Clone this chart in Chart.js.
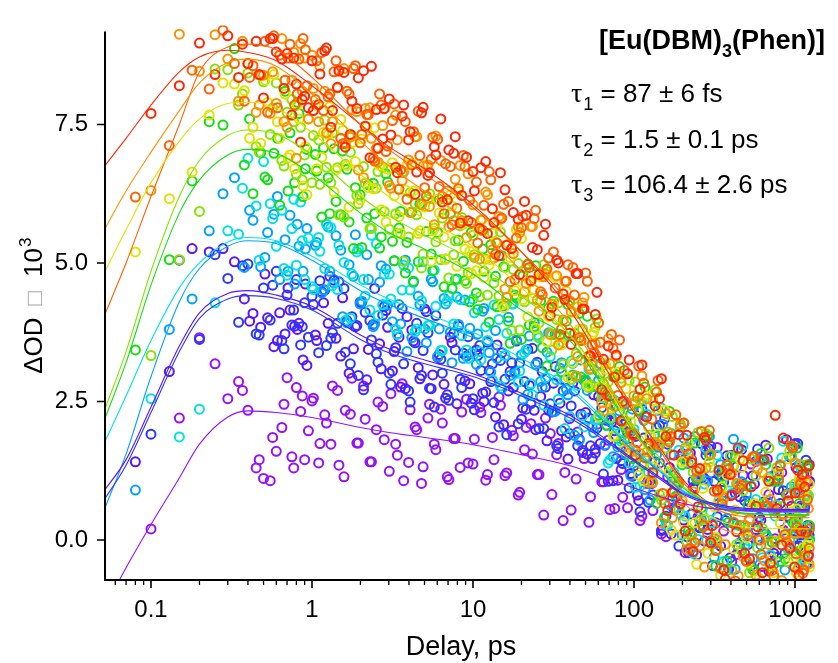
<!DOCTYPE html>
<html>
<head>
<meta charset="utf-8">
<script src="https://cdn.jsdelivr.net/npm/chart.js@4.4.1/dist/chart.umd.min.js"></script>
<style>
  html, body { margin: 0; padding: 0; background: #fff; }
  #wrap { width: 838px; height: 663px; position: relative; }
</style>
</head>
<body>
<div id="wrap"><canvas id="c" width="838" height="663"></canvas></div>
<script>
// Pump-probe delays (ps). Even traces: delaysA + delaysC, odd traces: delaysB + delaysD
const delaysA = [
  0.1, 0.15, 0.2, 0.25, 0.3, 0.35, 0.4, 0.45, 0.5, 0.55, 0.6, 0.65, 0.7, 0.75, 0.8, 0.85, 0.9, 0.95,
  1.0, 1.1, 1.2, 1.31, 1.44, 1.58, 1.73, 1.9, 2.09, 2.29, 2.51, 2.75, 3.02, 3.31, 3.63, 3.98, 4.37, 4.79, 5.25, 5.75, 6.31, 6.92, 7.59, 8.32, 9.12,
  10.0, 11.0, 12.0, 13.2, 14.5, 15.8, 17.4, 19.1, 20.9, 22.9, 25.1, 27.5, 30.2, 33.1, 36.3, 39.8, 43.7, 47.9, 52.5, 57.5, 63.1, 69.2, 75.9, 83.2, 91.2,
  100, 109, 120, 131, 144, 158, 173, 190, 208, 228, 250, 274, 300, 329, 361, 396, 434, 476, 522, 572, 627, 688, 754, 827, 907, 994, 1040, 1090, 1150, 1210
];
const delaysB = [
  0.08, 0.13, 0.18, 0.23, 0.28, 0.33, 0.38, 0.43, 0.48, 0.53, 0.58, 0.63, 0.68, 0.73, 0.78, 0.83, 0.88, 0.93,
  1.05, 1.15, 1.26, 1.37, 1.51, 1.65, 1.81, 1.99, 2.19, 2.4, 2.63, 2.88, 3.16, 3.47, 3.8, 4.17, 4.57, 5.01, 5.5, 6.03, 6.61, 7.24, 7.94, 8.71, 9.55,
  10.5, 11.5, 12.6, 13.8, 15.1, 16.6, 18.2, 20.0, 21.9, 24.0, 26.3, 28.8, 31.6, 34.7, 38.0, 41.7, 45.7, 50.1, 55.0, 60.3, 66.1, 72.4, 79.4, 87.1, 95.5,
  105, 115, 126, 138, 151, 166, 182, 199, 218, 239, 262, 287, 315, 345, 378, 415, 455, 499, 547, 600, 658, 721, 790, 866, 950, 1015, 1065, 1120, 1180, 1230
];
const delaysC = [
  0.37, 0.47, 0.57, 0.67, 0.77, 0.87,
  1.02, 1.12, 1.23, 1.34, 1.47, 1.61, 1.77, 1.94, 2.14, 2.34, 2.57, 2.81, 3.09, 3.39, 3.71, 4.07, 4.47, 4.9, 5.37, 5.88, 6.45, 7.08, 7.76, 8.51, 9.33,
  10.2, 11.2, 12.3, 13.5, 14.8, 16.2, 17.8, 19.5, 21.4, 23.4, 25.7, 28.2, 30.9, 33.9, 37.2, 40.7, 44.7, 49.0, 53.7, 58.9, 64.6, 70.8, 77.6, 85.1, 93.3,
  102, 112, 123, 135, 148, 162, 177, 194, 213, 233, 256, 280, 307, 337, 369, 405, 444, 487, 534, 586, 642, 704, 772, 846, 928, 1005, 1060, 1110, 1170, 1220
];
const delaysD = [
  0.41, 0.51, 0.61, 0.71, 0.81, 0.91,
  1.07, 1.18, 1.29, 1.41, 1.55, 1.7, 1.86, 2.04, 2.24, 2.45, 2.69, 2.95, 3.24, 3.55, 3.89, 4.27, 4.68, 5.13, 5.62, 6.17, 6.76, 7.41, 8.13, 8.91, 9.77,
  10.7, 11.7, 12.9, 14.1, 15.5, 17.0, 18.6, 20.4, 22.4, 24.5, 26.9, 29.5, 32.4, 35.5, 38.9, 42.7, 46.8, 51.3, 56.2, 61.7, 67.6, 74.1, 81.3, 89.1, 97.7,
  107, 117, 129, 141, 155, 170, 186, 204, 224, 245, 268, 294, 322, 353, 387, 425, 466, 511, 560, 614, 673, 738, 809, 887, 972, 1030, 1080, 1135, 1195, 1225
];

const traceNames = ['trace 1', 'trace 2', 'trace 3', 'trace 4', 'trace 5', 'trace 6',
                    'trace 7', 'trace 8', 'trace 9', 'trace 10', 'trace 11'];
const traceColors = ['#9610ff', '#5a14ff', '#2c36ff', '#00a2ff', '#00e2e2', '#12de12',
                     '#86e400', '#e2e200', '#ff9000', '#ff6000', '#ff2600'];

// ΔOD × 10^3 per trace, first scan (delaysA / delaysB)
const od1 = [
  0.20, 2.20, 3.65, 3.18, 2.55, 2.86, 2.34, 1.30, 1.11, 1.07, 1.60, 2.03, 2.93, 1.50, 2.75, 2.32, 1.45, 1.97,
  2.51, 1.39, 2.26, 1.73, 2.70, 1.14, 2.27, 1.75, 2.78, 1.41, 1.99, 2.41, 1.24, 1.73, 2.82, 1.40, 2.04, 1.02, 2.20, 1.73, 2.36, 1.14, 1.83, 1.31, 2.54,
  1.37, 2.40, 1.08, 1.85, 2.58, 1.16, 1.98, 0.81, 1.63, 2.10, 1.18, 0.45, 1.92, 1.54, 0.35, 2.19, 1.10, 1.62, 0.32, 1.64, 1.05, 1.80, 0.57, 1.27, 0.58,
  1.34, 0.35, 1.02, 0.53, 1.39, 0.06, 0.73, 1.05, -0.23, 1.45, 0.42, 1.10, -0.02, 1.67, 0.16, 0.80, -0.26, 1.17, 0.37, 1.42, -0.48, 0.82, 0.02, 1.22, 0.27, 1.72, -0.13, 0.62, 0.17, 1.07
];
const od2 = [
  1.41, 3.04, 5.26, 5.20, 5.26, 5.02, 4.35, 4.09, 3.84, 4.01, 3.49, 4.10, 3.72, 4.15, 3.86, 3.91, 3.25, 3.15,
  3.70, 4.48, 3.91, 4.69, 3.32, 3.96, 3.45, 4.29, 2.89, 3.89, 3.54, 4.14, 3.05, 3.66, 2.73, 3.79, 3.11, 4.17, 2.73, 3.30, 2.81, 3.66, 2.46, 3.37, 2.82,
  3.43, 2.65, 3.06, 2.22, 3.38, 2.69, 3.04, 2.18, 3.44, 2.34, 2.59, 1.79, 2.83, 2.47, 1.86, 2.84, 1.82, 2.30, 1.47, 2.59, 1.71, 2.12, 1.08, 2.09, 1.20,
  0.81, 1.84, 1.07, 2.03, 0.19, 1.31, 0.54, 1.56, -0.23, 0.93, 1.74, 0.19, 1.06, -0.11, 1.52, 0.30, 0.78, -0.38, 1.16, 0.41, 1.71, -0.04, 0.91, -0.24, 0.61, 1.31, 0.11, 0.86, -0.44, 1.06
];
const od3 = [
  1.91, 5.05, 3.62, 5.15, 4.72, 3.93, 4.98, 3.72, 4.55, 3.97, 4.85, 3.60, 4.42, 3.88, 4.70, 3.52, 4.28, 3.66,
  4.40, 3.38, 4.51, 3.64, 3.91, 4.54, 3.18, 3.87, 2.71, 3.96, 3.36, 4.06, 3.01, 3.47, 4.18, 2.69, 3.56, 2.97, 3.74, 2.40, 3.26, 2.62, 3.73, 2.90, 3.32,
  2.55, 3.51, 2.67, 3.18, 2.04, 2.90, 3.20, 2.10, 2.86, 2.46, 3.21, 2.01, 2.46, 1.70, 2.69, 1.92, 2.95, 1.58, 2.20, 1.57, 2.39, 1.06, 1.97, 1.43, 1.94,
  1.92, 0.51, 1.48, 0.81, 2.07, 0.43, 1.06, -0.11, 1.46, 0.47, 1.07, -0.02, 1.69, 0.42, 1.05, -0.32, 1.32, 0.06, 0.69, 0.19, 1.44, -0.56, 1.09, 0.44, 0.84, -0.11, 1.74, 0.09, 0.59, -0.26
];
const od4 = [
  0.90, 3.80, 4.35, 5.58, 6.25, 6.54, 4.92, 5.77, 4.93, 5.55, 5.88, 4.70, 5.42, 5.86, 4.62, 5.30, 4.85, 5.62,
  5.32, 4.46, 5.65, 4.64, 5.23, 3.92, 4.76, 4.26, 5.15, 3.85, 4.65, 4.89, 3.94, 4.25, 5.05, 3.65, 4.40, 3.81, 4.71, 3.31, 4.36, 3.75, 4.39, 3.28, 3.82,
  3.17, 4.13, 3.38, 3.78, 2.73, 4.02, 3.01, 3.34, 2.63, 3.92, 2.86, 3.39, 2.32, 3.10, 2.72, 3.19, 1.80, 2.85, 2.04, 2.88, 1.72, 2.20, 1.68, 2.50, 1.16,
  1.25, 2.16, 0.72, 1.54, 2.09, 0.64, 1.14, 0.09, 1.38, 1.87, 0.37, 1.07, -0.31, 1.36, 0.39, 1.82, -0.05, 0.83, -0.34, 1.46, 0.11, 0.56, 1.16, -0.54, 0.96, 0.26, 1.36, -0.19, 0.71, 0.01
];
const od5 = [
  2.55, 1.86, 2.36, 4.28, 5.58, 5.52, 6.89, 6.03, 6.83, 6.07, 5.30, 5.95, 4.78, 5.62, 4.96, 6.10, 4.70, 5.45,
  4.57, 5.46, 4.90, 5.64, 4.52, 5.01, 4.00, 5.20, 4.70, 4.15, 5.35, 4.25, 4.80, 3.81, 4.51, 4.91, 3.76, 4.32, 3.87, 4.87, 3.42, 4.31, 3.90, 4.34, 3.43,
  4.35, 3.40, 3.85, 2.89, 3.98, 3.33, 4.26, 2.85, 3.38, 2.82, 3.70, 2.43, 3.31, 2.89, 3.56, 2.23, 2.94, 2.24, 3.08, 2.17, 2.66, 1.39, 2.52, 1.78, 2.04,
  2.00, 0.97, 2.27, 1.18, 1.78, 0.27, 1.12, 1.62, 0.43, 1.81, 0.01, 1.01, 0.51, 1.53, -0.39, 1.04, 0.27, 1.70, -0.02, 0.73, -0.32, 1.13, 0.43, 1.48, -0.17, 0.93, 0.18, 1.28, -0.42, 0.78
];
const od6 = [
  3.43, 5.06, 6.48, 7.55, 7.49, 8.87, 6.77, 6.25, 6.99, 6.50, 6.98, 6.04, 8.10, 7.35, 6.45, 7.70, 6.20, 7.05,
  6.96, 5.83, 6.54, 7.06, 5.87, 6.69, 5.26, 6.23, 5.81, 6.44, 5.27, 6.61, 5.39, 5.63, 4.82, 5.92, 5.02, 6.02, 5.16, 5.55, 4.57, 5.89, 4.71, 5.03, 4.30,
  4.46, 5.25, 3.93, 4.76, 5.13, 3.95, 4.42, 3.62, 4.98, 3.85, 4.32, 3.14, 4.31, 3.68, 3.95, 2.98, 4.09, 2.89, 3.22, 2.25, 3.17, 2.45, 2.98, 1.80, 2.27,
  2.58, 1.36, 1.89, 0.66, 1.91, 2.32, 0.79, 1.36, 0.17, 1.75, 0.58, 1.88, 0.03, 0.95, -0.38, 1.34, 0.26, 0.98, -0.54, 0.61, 1.36, -0.04, 1.06, -0.34, 1.51, 0.11, 0.66, -0.19, 1.31, 0.26
];
const od7 = [
  3.33, 5.06, 5.93, 8.50, 8.49, 7.85, 8.43, 7.10, 8.27, 7.32, 8.25, 6.85, 7.72, 7.95, 6.60, 7.45, 6.95, 7.60,
  6.45, 7.22, 7.58, 6.45, 6.72, 5.83, 7.00, 6.22, 6.74, 5.62, 6.35, 6.73, 5.61, 5.89, 6.63, 5.47, 6.07, 4.91, 6.15, 5.63, 5.06, 6.13, 5.15, 5.67, 4.63,
  5.50, 4.39, 5.07, 5.54, 4.41, 4.92, 3.78, 4.99, 4.30, 4.66, 3.67, 4.97, 3.73, 3.98, 3.17, 4.30, 3.36, 3.81, 2.75, 3.84, 2.57, 2.85, 1.86, 2.92, 2.03,
  1.60, 2.53, 1.59, 2.51, 0.82, 1.66, 2.23, 0.55, 1.42, -0.03, 1.94, 0.37, 1.31, -0.18, 0.79, 1.51, -0.08, 0.89, -0.59, 1.16, 0.21, 1.66, -0.04, 0.61, -0.39, 1.01, 0.36, 1.36, -0.19, 0.81
];
const od8 = [
  5.20, 6.16, 6.64, 7.67, 8.25, 8.23, 8.11, 7.45, 7.16, 7.90, 8.40, 7.25, 8.05, 6.95, 6.70, 7.60, 6.39, 6.23,
  7.85, 6.91, 7.32, 6.28, 7.59, 6.76, 7.18, 6.14, 7.46, 6.34, 6.76, 5.74, 6.81, 5.84, 6.32, 6.80, 5.53, 6.01, 5.03, 6.15, 5.47, 6.23, 4.94, 5.70, 5.21,
  4.86, 5.79, 4.96, 5.38, 4.24, 5.35, 4.50, 5.44, 4.03, 4.52, 4.75, 3.58, 4.25, 3.57, 4.49, 3.20, 3.80, 3.23, 3.70, 2.22, 3.18, 2.38, 3.03, 1.63, 2.13,
  2.37, 1.07, 1.87, 2.36, 0.84, 1.23, 0.09, 1.41, 1.75, 0.31, 1.28, -0.24, 0.60, -0.64, 1.17, -0.16, 1.46, 0.04, 0.61, -0.69, 0.86, -0.34, 1.21, 0.06, 0.51, -0.59, 1.11, -0.14, 0.76, -0.49
];
const od9 = [
  6.31, 9.13, 8.46, 9.12, 8.68, 7.92, 8.60, 7.72, 8.39, 7.70, 7.88, 9.05, 7.45, 8.30, 6.89, 8.96, 8.70, 7.60,
  8.75, 7.55, 8.10, 7.15, 8.16, 8.51, 7.27, 7.73, 6.54, 7.80, 7.07, 7.48, 6.40, 7.67, 6.49, 6.86, 7.28, 6.05, 6.77, 5.69, 6.85, 6.30, 5.76, 6.76, 5.46,
  6.05, 5.07, 6.28, 5.24, 5.84, 4.53, 5.27, 5.65, 4.48, 5.66, 4.33, 4.75, 3.71, 4.77, 3.97, 4.32, 2.96, 4.28, 3.14, 3.54, 2.48, 3.63, 2.41, 2.84, 1.77,
  2.60, 1.56, 2.55, 1.04, 1.71, 2.28, 0.40, 1.02, 1.66, 0.09, 1.14, -0.49, 1.55, 0.00, 0.75, -0.79, 1.02, -0.30, 0.37, -0.63, 1.22, -0.08, 0.52, -0.73, 0.82, 0.12, -0.53, 1.07, -0.28, 0.57
];
const od10 = [
  6.19, 7.12, 8.48, 8.14, 9.20, 8.60, 7.92, 8.56, 8.39, 7.72, 9.10, 8.75, 8.30, 8.95, 7.85, 8.68, 9.05, 8.20,
  7.95, 8.80, 8.00, 8.45, 7.25, 8.10, 8.51, 7.17, 7.68, 6.89, 8.05, 7.01, 7.57, 6.33, 7.55, 6.77, 7.74, 6.36, 6.87, 7.23, 5.89, 6.74, 5.99, 6.94, 6.13,
  6.46, 5.59, 6.65, 5.16, 5.81, 6.11, 4.70, 5.64, 4.97, 5.80, 4.48, 4.89, 5.20, 3.71, 4.67, 4.92, 3.65, 4.82, 3.52, 3.92, 2.67, 3.71, 2.61, 3.06, 1.95,
  1.76, 2.83, 1.70, 2.67, 0.84, 1.77, 2.26, 0.71, 1.55, -0.05, 1.96, 0.11, 0.88, -0.51, 1.35, 0.32, 0.94, -0.38, 1.50, 0.00, 0.60, -0.55, 1.10, 0.10, 1.70, -0.25, 0.85, -0.60, 1.20, 0.20
];
const od11 = [
  7.70, 8.20, 8.97, 8.40, 9.10, 8.35, 8.60, 9.00, 7.98, 9.05, 8.81, 8.68, 8.78, 7.67, 8.23, 7.18, 8.01, 7.80,
  8.65, 7.86, 8.83, 7.45, 8.17, 8.44, 7.32, 7.79, 8.47, 6.90, 7.77, 7.24, 7.96, 6.73, 7.65, 7.22, 6.24, 7.71, 6.58, 7.10, 7.60, 6.14, 6.98, 5.72, 6.91,
  6.65, 5.62, 6.83, 5.98, 5.13, 6.32, 5.26, 5.79, 6.11, 4.68, 5.24, 5.50, 4.05, 5.05, 4.44, 3.73, 4.81, 4.17, 3.32, 4.07, 2.71, 3.50, 2.94, 2.15, 3.00,
  1.90, 2.72, 2.22, 1.22, 2.55, 1.87, 0.86, 1.90, 0.16, 1.40, 0.60, 1.85, -0.05, 0.90, -0.54, 1.18, 0.15, 1.43, -0.34, 0.61, -0.59, 1.06, 2.25, -0.09, 0.71, -0.49, 1.26, 0.16, 0.96, -0.29
];

// ΔOD × 10^3 per trace, second scan (delaysC / delaysD)
const od1b = [
  2.70, 1.45, 1.85, 2.45, 1.30, 2.60,
  2.56, 1.74, 2.11, 2.78, 1.35, 2.34, 2.92, 1.75, 2.18, 1.41, 2.49, 1.81, 2.64, 1.53, 1.07, 2.35, 1.99, 1.32, 2.45, 1.63, 2.11, 1.09, 1.83, 2.31, 1.39,
  1.82, 2.30, 1.18, 1.45, 2.43, 1.21, 1.88, 0.86, 2.03, 1.55, 1.18, 2.20, 0.82, 1.74, 1.22, 0.54, 1.95, 1.47, 0.78, 2.09, 1.05, 0.55, 1.47, 0.77, 1.68,
  1.62, 0.43, 1.08, 1.72, 0.11, 1.14, 0.56, 1.51, -0.18, 0.95, 0.24, 1.62, -0.02, 0.66, 1.16, -0.39, 0.97, 0.26, 1.37, 0.01, 0.69, -0.29, 1.24, 0.18, 1.50, 0.39, 0.99, -0.20, 0.78, 0.09
];
const od2b = [
  3.95, 4.80, 3.60, 4.55, 3.80, 4.62,
  3.60, 4.28, 4.76, 3.64, 4.37, 3.01, 3.85, 4.29, 3.44, 4.54, 3.09, 3.84, 3.40, 2.76, 4.03, 3.59, 2.91, 4.12, 2.98, 3.35, 2.56, 3.56, 3.86, 2.87, 2.47,
  3.33, 2.50, 2.86, 3.52, 2.08, 3.04, 3.59, 2.38, 2.79, 1.99, 3.04, 2.34, 3.13, 1.97, 1.46, 2.69, 2.27, 1.55, 2.62, 1.74, 2.16, 1.07, 1.73, 2.14, 1.15,
  0.71, 2.24, 1.02, 1.68, 2.19, 0.11, 1.09, 0.36, 1.57, -0.27, 1.14, 1.64, 0.31, 1.24, -0.53, 0.85, 1.63, -0.08, 1.01, 0.36, 1.46, -0.24, 0.66, 1.81, 0.01, 0.91, -0.44, 1.21, 0.26, 1.36
];
const od3b = [
  4.95, 3.70, 4.60, 3.45, 4.15, 3.85,
  4.25, 4.68, 3.51, 3.74, 4.66, 3.39, 4.03, 2.97, 4.11, 3.61, 3.21, 4.21, 2.81, 3.72, 3.18, 2.49, 3.91, 3.42, 2.74, 4.05, 3.01, 2.52, 3.43, 2.75, 3.67,
  2.35, 3.06, 3.57, 2.48, 3.24, 1.90, 2.75, 3.20, 2.36, 3.46, 2.01, 2.76, 2.31, 1.65, 2.89, 2.42, 1.70, 2.88, 1.70, 2.02, 1.19, 2.16, 2.42, 1.38, 0.94,
  1.87, 2.36, 0.68, 1.41, 0.17, 1.73, 0.86, 2.04, 0.06, 1.07, 0.22, 1.53, -0.46, 1.17, 0.35, 1.53, -0.13, 0.71, -0.46, 1.64, 0.14, 1.14, -0.31, 0.89, 0.39, 1.74, -0.11, 0.59, 1.44, 0.09
];
const od4b = [
  5.95, 5.10, 6.20, 4.85, 5.70, 5.25,
  5.37, 4.51, 4.85, 5.49, 4.03, 4.97, 5.51, 4.31, 4.70, 3.90, 4.95, 4.24, 5.04, 3.90, 3.40, 4.65, 4.25, 3.56, 4.66, 3.81, 4.26, 3.20, 3.89, 4.33, 3.37,
  3.72, 4.18, 3.03, 3.28, 4.23, 2.97, 3.61, 2.54, 3.68, 3.17, 2.76, 3.74, 2.32, 3.20, 2.62, 1.89, 3.25, 2.70, 1.94, 3.18, 2.07, 1.50, 2.33, 1.55, 2.36,
  2.35, 0.91, 1.62, 2.34, 0.39, 1.54, 0.79, 1.84, -0.17, 1.12, 0.27, 1.87, -0.06, 0.71, 1.29, -0.53, 1.05, 0.23, 1.51, -0.09, 0.71, -0.44, 1.36, 0.11, 1.66, 0.36, 1.06, -0.34, 0.81, 0.01
];
const od5b = [
  6.35, 5.05, 5.80, 4.90, 6.15, 5.40,
  4.52, 5.21, 5.70, 4.59, 5.32, 3.96, 4.80, 5.25, 4.40, 5.50, 4.05, 4.80, 4.35, 3.71, 4.96, 4.51, 3.81, 5.02, 3.87, 4.22, 3.42, 4.41, 4.70, 3.69, 3.28,
  4.10, 3.25, 3.60, 4.24, 2.78, 3.73, 4.26, 3.05, 3.43, 2.62, 3.65, 2.93, 3.71, 2.54, 2.01, 3.23, 2.79, 2.04, 3.08, 2.17, 2.56, 1.44, 2.07, 2.43, 1.39,
  0.95, 2.47, 1.22, 1.88, 2.38, 0.27, 1.22, 0.47, 1.63, -0.24, 1.16, 1.66, 0.31, 1.23, -0.54, 0.84, 1.62, -0.10, 0.98, 0.33, 1.43, -0.27, 0.63, 1.78, -0.02, 0.88, -0.47, 1.18, 0.23, 1.33
];
const od6b = [
  7.60, 6.55, 7.25, 6.30, 7.90, 6.70,
  6.66, 7.08, 5.89, 6.11, 7.02, 5.74, 6.36, 5.28, 6.41, 5.89, 5.47, 6.46, 5.04, 5.93, 5.37, 4.67, 6.07, 5.57, 4.86, 6.15, 5.07, 4.54, 5.41, 4.68, 5.55,
  4.16, 4.85, 5.33, 4.21, 4.93, 3.55, 4.37, 4.77, 3.88, 4.95, 3.47, 4.19, 3.71, 3.03, 4.25, 3.73, 2.94, 4.04, 2.77, 3.00, 2.07, 2.95, 3.13, 2.00, 1.47,
  2.33, 2.76, 1.04, 1.71, 0.41, 1.92, 0.99, 2.11, 0.12, 1.10, 0.23, 1.53, -0.47, 1.15, 0.32, 1.49, -0.19, 0.63, -0.54, 1.56, 0.06, 1.06, -0.39, 0.81, 0.31, 1.66, -0.19, 0.51, 1.36, 0.01
];
const od7b = [
  8.05, 7.00, 7.80, 6.75, 7.55, 6.50,
  7.30, 6.42, 6.73, 7.35, 5.87, 6.78, 7.30, 6.07, 6.44, 5.62, 6.65, 5.93, 6.71, 5.54, 5.03, 6.27, 5.87, 5.16, 6.25, 5.38, 5.81, 4.73, 5.40, 5.82, 4.83,
  5.15, 5.59, 4.42, 4.64, 5.56, 4.27, 4.88, 3.79, 4.90, 4.36, 3.92, 4.87, 3.43, 4.28, 3.67, 2.90, 4.21, 3.61, 2.80, 3.99, 2.82, 2.20, 2.96, 2.12, 2.88,
  2.85, 1.38, 2.04, 2.71, 0.72, 1.81, 1.03, 2.05, -0.03, 1.22, 0.34, 1.92, -0.04, 0.72, 1.29, -0.54, 1.02, 0.19, 1.46, -0.14, 0.66, -0.49, 1.31, 0.06, 1.61, 0.31, 1.01, -0.39, 0.76, -0.04
];
const od8b = [
  7.25, 8.30, 7.55, 6.90, 7.85, 7.10,
  6.70, 7.36, 7.82, 6.68, 7.39, 6.01, 6.83, 7.24, 6.36, 7.44, 5.96, 6.69, 6.21, 5.54, 6.77, 6.30, 5.58, 6.76, 5.58, 5.90, 5.07, 6.03, 6.29, 5.25, 4.81,
  5.61, 4.74, 5.06, 5.68, 4.19, 5.10, 5.60, 4.34, 4.68, 3.82, 4.80, 4.03, 4.75, 3.52, 2.94, 4.10, 3.60, 2.78, 3.75, 2.77, 3.08, 1.88, 2.43, 2.73, 1.63,
  1.17, 2.62, 1.32, 1.91, 2.34, 0.18, 1.09, 0.31, 1.45, -0.44, 0.93, 1.41, 0.05, 0.96, -0.83, 0.54, 1.31, -0.41, 0.66, 0.01, 1.11, -0.59, 0.31, 1.46, -0.34, 0.56, -0.79, 0.86, -0.09, 1.01
];
const od9b = [
  9.00, 7.85, 8.45, 7.55, 8.80, 8.10,
  8.15, 8.55, 7.35, 7.55, 8.46, 7.16, 7.77, 6.68, 7.79, 7.25, 6.82, 7.78, 6.35, 7.22, 6.64, 5.91, 7.28, 6.75, 6.02, 7.29, 6.20, 5.65, 6.51, 5.76, 6.61,
  5.10, 5.77, 6.23, 5.09, 5.79, 4.38, 5.17, 5.55, 4.63, 5.66, 4.13, 4.80, 4.26, 3.52, 4.67, 4.12, 3.31, 4.38, 3.09, 3.29, 2.33, 3.18, 3.31, 2.14, 1.57,
  2.50, 2.96, 1.04, 1.76, 0.31, 1.95, 0.89, 2.09, -0.17, 0.87, -0.11, 1.30, -0.91, 0.86, -0.08, 1.21, -0.65, 0.27, -1.03, 1.28, -0.37, 0.73, -0.87, 0.46, -0.10, 1.39, -0.65, 0.13, 1.06, -0.43
];
const od10b = [
  8.35, 9.00, 7.80, 8.70, 8.05, 8.85,
  8.65, 7.75, 8.05, 8.65, 7.15, 8.05, 8.56, 7.32, 7.68, 6.84, 7.85, 7.11, 7.87, 6.68, 6.15, 7.37, 6.94, 6.21, 7.27, 6.38, 6.79, 5.69, 6.34, 6.74, 5.73,
  5.36, 6.04, 6.50, 5.36, 6.06, 4.66, 5.45, 5.84, 4.92, 5.95, 4.43, 5.09, 4.55, 3.81, 4.97, 4.42, 3.60, 4.67, 3.37, 3.57, 2.62, 3.46, 3.61, 2.46, 1.90,
  3.14, 1.48, 2.18, 2.88, 0.66, 1.87, 0.99, 2.11, -0.15, 1.24, 0.26, 1.98, -0.19, 0.65, 1.27, -0.74, 0.99, 0.09, 1.50, -0.26, 0.62, -0.65, 1.34, -0.04, 1.67, 0.23, 1.01, -0.54, 0.73, -0.15
];
const od11b = [
  8.95, 8.40, 9.05, 8.15, 8.70, 7.95,
  7.75, 8.41, 8.88, 7.75, 8.47, 7.09, 7.92, 8.34, 7.47, 8.55, 7.07, 7.79, 7.31, 6.63, 7.85, 7.37, 6.64, 7.81, 6.63, 6.95, 6.10, 7.04, 7.28, 6.22, 5.76,
  6.30, 6.72, 5.53, 5.73, 6.63, 5.32, 5.91, 4.79, 5.86, 5.28, 4.79, 5.70, 4.20, 5.00, 4.34, 3.53, 4.81, 4.17, 3.32, 4.47, 3.26, 2.60, 3.34, 2.50, 3.25,
  1.53, 3.16, 1.74, 2.42, 2.91, 0.53, 1.53, 0.65, 1.89, -0.21, 1.29, 1.80, 0.26, 1.26, -0.71, 0.81, 1.66, -0.24, 0.96, 0.24, 1.45, -0.42, 0.57, 1.84, -0.15, 0.85, -0.64, 1.18, 0.13, 1.34
];

// Global-fit curves sampled at fitDelays
const fitDelays = [0.05, 0.07, 0.1, 0.15, 0.2, 0.3, 0.4, 0.6, 1, 2, 3, 5, 10, 20, 40, 70, 100, 150, 200, 300, 500, 1230];
const fit1  = [-1.3, -0.5, 0.28, 1.12, 1.73, 2.22, 2.33, 2.30, 2.21, 2.03, 1.94, 1.85, 1.72, 1.54, 1.34, 1.10, 0.94, 0.77, 0.66, 0.57, 0.53, 0.52];
const fit2  = [0.85, 1.45, 2.4, 3.5, 4.1, 4.45, 4.5, 4.42, 4.22, 3.7, 3.45, 3.25, 3.0, 2.65, 2.25, 1.78, 1.45, 1.10, 0.85, 0.67, 0.57, 0.55];
const fit3  = [0.68, 1.35, 2.3, 3.4, 4.0, 4.35, 4.41, 4.36, 4.15, 3.62, 3.38, 3.18, 2.95, 2.6, 2.2, 1.74, 1.42, 1.07, 0.83, 0.64, 0.55, 0.53];
const fit4  = [0.47, 1.55, 2.95, 4.3, 4.9, 5.3, 5.4, 5.35, 5.05, 4.5, 4.25, 4.0, 3.65, 3.2, 2.7, 2.05, 1.6, 1.2, 0.88, 0.65, 0.52, 0.5];
const fit5  = [1.68, 2.6, 3.6, 4.55, 5.0, 5.38, 5.46, 5.4, 5.12, 4.6, 4.35, 4.1, 3.75, 3.28, 2.76, 2.1, 1.65, 1.22, 0.9, 0.66, 0.54, 0.52];
const fit6  = [2.08, 3.2, 4.6, 5.9, 6.5, 6.95, 7.05, 6.98, 6.6, 5.9, 5.55, 5.25, 4.8, 4.15, 3.6, 2.6, 1.95, 1.37, 0.95, 0.65, 0.48, 0.45];
const fit7  = [2.25, 3.4, 4.85, 6.2, 6.85, 7.3, 7.4, 7.33, 6.95, 6.2, 5.85, 5.5, 5.05, 4.4, 3.7, 2.75, 2.05, 1.43, 0.98, 0.66, 0.47, 0.45];
const fit8  = [4.76, 5.6, 6.45, 7.2, 7.6, 7.88, 7.9, 7.8, 7.35, 6.6, 6.2, 5.8, 5.3, 4.55, 3.7, 2.7, 1.95, 1.25, 0.8, 0.42, 0.23, 0.2];
const fit9  = [5.54, 6.3, 7.0, 7.75, 8.25, 8.62, 8.68, 8.55, 8.05, 7.2, 6.75, 6.3, 5.7, 4.85, 3.9, 2.8, 2.0, 1.25, 0.7, 0.3, 0.08, 0.05];
const fit10 = [3.97, 5.0, 6.2, 7.5, 8.45, 8.9, 8.95, 8.85, 8.35, 7.5, 7.05, 6.6, 6.0, 5.2, 4.25, 3.1, 2.35, 1.55, 1.05, 0.6, 0.42, 0.4];
const fit11 = [6.7, 7.25, 7.85, 8.45, 8.72, 8.84, 8.8, 8.65, 8.2, 7.5, 7.1, 6.7, 6.05, 5.2, 4.15, 3.0, 2.3, 1.6, 1.1, 0.65, 0.47, 0.45];

// Axis ticks
const xTickValues = [0.1, 1, 10, 100, 1000];
const xTickLabels = ['0.1', '1', '10', '100', '1000'];
const yTickValues = [0, 2.5, 5, 7.5];
const yTickLabels = ['0.0', '2.5', '5.0', '7.5'];

const scan1 = [od1, od2, od3, od4, od5, od6, od7, od8, od9, od10, od11];
const scan2 = [od1b, od2b, od3b, od4b, od5b, od6b, od7b, od8b, od9b, od10b, od11b];
const fitValues = [fit1, fit2, fit3, fit4, fit5, fit6, fit7, fit8, fit9, fit10, fit11];

const SANS = '"Liberation Sans", Arial, Helvetica, sans-serif';

const pairUp = (xs, ys) => ys.map((y, k) => ({ x: xs[k], y }));

const pointSets = scan1.map((vals, i) => {
  const even = i % 2 === 0;
  const pts = pairUp(even ? delaysA : delaysB, vals)
    .concat(pairUp(even ? delaysC : delaysD, scan2[i]));
  return {
    type: 'scatter',
    label: traceNames[i],
    data: pts,
    showLine: false,
    pointStyle: 'circle',
    pointRadius: 4.5,
    pointBorderWidth: 2.0,
    borderColor: traceColors[i],
    pointBorderColor: traceColors[i],
    backgroundColor: 'rgba(0,0,0,0)',
    pointBackgroundColor: 'rgba(0,0,0,0)',
    order: 20 - i,
    clip: { left: 6, top: 6, right: 6, bottom: 0 }
  };
});

const fitSets = fitValues.map((vals, i) => ({
  type: 'line',
  label: traceNames[i] + ' fit',
  data: pairUp(fitDelays, vals),
  showLine: true,
  borderColor: traceColors[i],
  borderWidth: 1.1,
  pointRadius: 0,
  fill: false,
  cubicInterpolationMode: 'monotone',
  order: 0,
  clip: 0
}));

// Frame: axis lines plus major/minor tick marks
const frameMarks = {
  id: 'frameMarks',
  afterDraw(chart) {
    const { ctx, chartArea: a } = chart;
    const xs = chart.scales.x, ys = chart.scales.y;
    ctx.save();
    ctx.strokeStyle = '#000';
    ctx.lineCap = 'butt';
    ctx.lineWidth = 1.6;
    ctx.beginPath();
    xTickValues.forEach(v => {
      const px = xs.getPixelForValue(v);
      ctx.moveTo(px, a.bottom); ctx.lineTo(px, a.bottom + 8);
    });
    yTickValues.forEach(v => {
      const py = ys.getPixelForValue(v);
      ctx.moveTo(a.left - 8, py); ctx.lineTo(a.left, py);
    });
    ctx.stroke();
    ctx.lineWidth = 1.3;
    ctx.beginPath();
    for (let d = 0.01; d <= 1000; d *= 10) {
      for (let m = 2; m <= 9; m++) {
        const v = d * m;
        if (v < xs.min || v > xs.max) continue;
        const px = xs.getPixelForValue(v);
        ctx.moveTo(px, a.bottom); ctx.lineTo(px, a.bottom + 5);
      }
    }
    ctx.stroke();
    ctx.lineWidth = 2;
    ctx.beginPath();
    ctx.moveTo(a.left, a.top);
    ctx.lineTo(a.left, a.bottom);
    ctx.lineTo(a.right, a.bottom);
    ctx.stroke();
    ctx.restore();
  }
};

function runsWidth(ctx, runs) {
  let w = 0;
  runs.forEach(r => { ctx.font = r.font; w += ctx.measureText(r.text).width + (r.gap || 0); });
  return w;
}
function drawRuns(ctx, runs, x, y) {
  let cx = x;
  runs.forEach(r => {
    ctx.font = r.font;
    ctx.fillStyle = r.color || '#000';
    ctx.fillText(r.text, cx, y + (r.dy || 0));
    cx += ctx.measureText(r.text).width + (r.gap || 0);
  });
}

// Axis titles and the sample / lifetime annotation
const labelsPlugin = {
  id: 'labelsPlugin',
  afterDraw(chart) {
    const { ctx, chartArea: a } = chart;
    ctx.save();
    ctx.textBaseline = 'alphabetic';
    ctx.textAlign = 'left';

    // x title
    ctx.font = '27px ' + SANS;
    ctx.fillStyle = '#000';
    const xt = 'Delay, ps';
    const xw = ctx.measureText(xt).width;
    ctx.fillText(xt, (a.left + a.right) / 2 - xw / 2, 655);

    // y title (rotated)
    const yRuns = [
      { text: 'ΔOD', font: '26px ' + SANS, gap: 12 },
      { text: '□', font: '24px ' + SANS, color: '#a8a8a8', gap: 14 },
      { text: '10', font: '26px ' + SANS, gap: 1 },
      { text: '3', font: '17px ' + SANS, dy: -11 }
    ];
    const yw = runsWidth(ctx, yRuns);
    ctx.save();
    ctx.translate(42, (a.top + a.bottom) / 2);
    ctx.rotate(-Math.PI / 2);
    drawRuns(ctx, yRuns, -yw / 2, 0);
    ctx.restore();

    // compound name
    const nameRuns = [
      { text: '[Eu(DBM)', font: 'bold 27px ' + SANS },
      { text: '3', font: 'bold 18px ' + SANS, dy: 8 },
      { text: '(Phen)]', font: 'bold 27px ' + SANS }
    ];
    const nw = runsWidth(ctx, nameRuns);
    drawRuns(ctx, nameRuns, 825 - nw, 49);

    // lifetimes
    const tauLines = [
      { sub: '1', rest: ' = 87 \u00B1 6 fs', y: 102 },
      { sub: '2', rest: ' = 1.5 \u00B1 0.1 ps', y: 148 },
      { sub: '3', rest: ' = 106.4 \u00B1 2.6 ps', y: 193 }
    ];
    tauLines.forEach(t => {
      drawRuns(ctx, [
        { text: '\u03C4', font: '28px "Liberation Serif", "Times New Roman", serif', gap: 1 },
        { text: t.sub, font: '18px ' + SANS, dy: 8 },
        { text: t.rest, font: '26px ' + SANS }
      ], 571, t.y);
    });
    ctx.restore();
  }
};

Chart.defaults.font.family = SANS;
Chart.defaults.color = '#000';

new Chart(document.getElementById('c'), {
  type: 'scatter',
  data: { datasets: [...pointSets, ...fitSets] },
  options: {
    responsive: false,
    animation: false,
    events: [],
    layout: { padding: { left: 0, right: 10, top: 14, bottom: 0 } },
    plugins: { legend: { display: false }, tooltip: { enabled: false }, title: { display: false } },
    scales: {
      x: {
        type: 'logarithmic',
        min: 0.0518,
        max: 1369,
        grid: { display: false, drawTicks: false, tickLength: 0 },
        border: { display: false },
        afterBuildTicks: s => { s.ticks = xTickValues.map(v => ({ value: v })); },
        afterFit: s => { s.height = 83; },
        ticks: {
          autoSkip: false, maxRotation: 0, minRotation: 0,
          padding: 16,
          font: { size: 24, family: SANS },
          color: '#000',
          callback: (v, i) => xTickLabels[i]
        }
      },
      y: {
        type: 'linear',
        min: -0.7225,
        max: 9.18,
        grid: { display: false, drawTicks: false, tickLength: 0 },
        border: { display: false },
        afterBuildTicks: s => { s.ticks = yTickValues.map(v => ({ value: v })); },
        afterFit: s => { s.width = 105; },
        ticks: {
          padding: 17,
          font: { size: 24, family: SANS },
          color: '#000',
          callback: (v, i) => yTickLabels[i]
        }
      }
    }
  },
  plugins: [frameMarks, labelsPlugin]
});
</script>
</body>
</html>
